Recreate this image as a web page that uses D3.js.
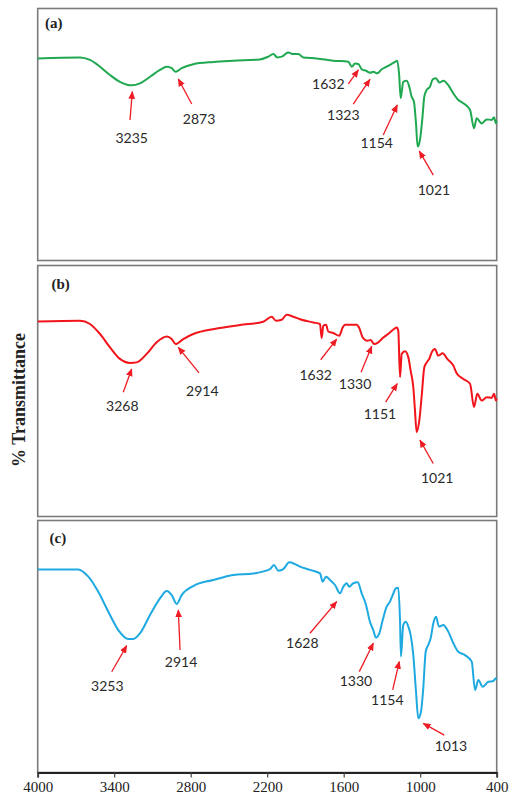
<!DOCTYPE html>
<html>
<head>
<meta charset="utf-8">
<script src="https://cdn.jsdelivr.net/npm/d3@7/dist/d3.min.js"></script>
<style>
  body { margin: 0; background: #fff; }
  svg { display: block; }
</style>
</head>
<body>
<svg id="chart" width="509" height="800"></svg>
<script>
// x axis ticks (wavenumber, cm-1)
const wavenumberTicks = [4000, 3400, 2800, 2200, 1600, 1000, 400];
const panelNames = ['(a)', '(b)', '(c)'];

// spectra as [wavenumber, % transmittance]
const specA = [
  [4000,80.2],[3668,80.6],[3590,79.6],[3511,76.9],[3433,73.6],[3355,70.9],[3263,69.5],[3198,70.3],[3119,72.9],
  [3041,75.6],[2988,76.9],[2949,76.3],[2918,74.9],[2871,76.3],[2780,77.9],[2623,78.8],[2466,79.3],[2257,79.8],
  [2191,80.9],[2152,81.9],[2121,80.6],[2086,80.9],[2035,82.5],[1995,81.9],[1956,81.9],[1917,80.6],[1812,80.2],
  [1682,79.3],[1564,78.9],[1537,76.9],[1511,78.2],[1485,78.0],[1459,75.9],[1425,75.3],[1394,74.5],[1368,74.9],
  [1336,74.3],[1302,75.9],[1263,76.9],[1224,78.0],[1190,79.0],[1180,79.3],[1166,74.3],[1153,64.4],[1133,70.9],
  [1106,71.3],[1086,69.0],[1067,65.0],[1049,63.0],[1033,54.4],[1020,45.2],[1002,47.8],[984,55.8],[968,65.0],
  [949,67.7],[923,69.0],[902,71.9],[876,72.3],[850,70.6],[819,71.3],[780,69.6],[740,66.3],[701,63.7],[662,62.4],
  [609,59.7],[578,52.5],[557,56.4],[518,54.4],[478,56.0],[439,55.8],[421,56.8],[406,54.4],[400,55.5]
];
const specB = [
  [4000,77.7],[3668,78.0],[3590,76.7],[3511,72.7],[3433,67.4],[3355,62.8],[3276,61.2],[3224,61.4],[3145,64.8],
  [3067,69.4],[2988,71.7],[2949,70.7],[2918,68.7],[2858,70.7],[2780,72.7],[2596,74.9],[2413,76.3],[2231,77.6],
  [2165,79.6],[2131,78.0],[2086,78.4],[2047,80.4],[1995,79.6],[1943,78.6],[1838,77.3],[1786,76.7],[1773,71.1],
  [1760,76.0],[1739,76.4],[1721,73.7],[1682,73.1],[1635,72.0],[1608,75.3],[1590,76.4],[1498,76.4],[1478,75.1],
  [1451,71.3],[1415,70.0],[1388,70.3],[1362,68.7],[1329,69.4],[1289,71.3],[1237,73.3],[1205,74.7],[1184,75.3],
  [1172,74.0],[1158,55.5],[1145,64.8],[1119,65.8],[1093,63.4],[1075,58.1],[1054,51.5],[1041,42.3],[1028,33.6],
  [1007,38.3],[988,48.2],[968,59.4],[949,61.4],[929,62.8],[910,65.4],[884,66.7],[858,64.1],[824,65.0],[788,62.8],
  [740,60.1],[714,57.1],[662,54.8],[609,52.9],[578,43.6],[552,48.9],[518,46.2],[478,47.5],[439,47.3],[421,48.9],
  [406,46.2],[400,47.0]
];
const specC = [
  [4000,80.6],[3682,80.6],[3603,77.7],[3525,71.7],[3446,63.8],[3368,56.5],[3289,53.0],[3250,53.0],[3198,55.2],
  [3119,62.5],[3041,69.1],[2988,72.0],[2949,70.4],[2910,66.9],[2871,70.4],[2780,74.0],[2623,76.4],[2466,78.4],
  [2309,79.0],[2178,80.7],[2147,82.3],[2113,80.1],[2074,80.7],[2027,83.4],[1982,82.7],[1943,81.7],[1864,80.4],
  [1786,79.0],[1765,75.7],[1739,77.7],[1707,76.4],[1668,74.4],[1629,71.1],[1603,73.7],[1577,75.1],[1556,73.7],
  [1525,75.1],[1490,75.5],[1459,71.1],[1425,66.5],[1394,59.8],[1368,56.5],[1347,53.5],[1321,55.2],[1294,60.5],
  [1263,65.8],[1237,67.8],[1216,70.4],[1190,73.1],[1172,73.3],[1158,59.8],[1151,46.0],[1133,58.5],[1114,59.8],
  [1093,57.9],[1075,54.6],[1054,46.6],[1033,32.1],[1015,21.5],[994,24.1],[976,33.4],[957,47.9],[937,50.6],
  [918,53.3],[897,59.2],[876,61.8],[853,57.9],[819,58.5],[780,55.9],[740,51.3],[701,47.9],[649,46.6],[596,44.0],
  [570,32.7],[544,36.7],[510,34.0],[466,36.0],[427,36.3],[406,37.4],[400,37.0]
];

// peak labels and the point each arrow points at [wavenumber, %T]
const peakLabelsA = ['3235', '2873', '1632', '1323', '1154', '1021'];
const peakPointsA = [[3258,67.0],[2897,72.0],[1485,75.6],[1394,71.9],[1180,61.7],[1007,43.4]];
const peakLabelsB = ['3268', '2914', '1632', '1330', '1151', '1021'];
const peakPointsB = [[3263,58.8],[2897,67.4],[1655,70.7],[1380,67.8],[1180,52.9],[1002,30.4]];
const peakLabelsC = ['3253', '2914', '1628', '1330', '1154', '1013'];
const peakPointsC = [[3302,50.3],[2897,64.5],[1655,67.8],[1368,51.3],[1164,44.0],[976,19.5]];

// layout: arrow tail and label centre, px offsets from arrow head
const calloutA = [[-2.3,28.3,-0.6,45.6],[13.4,25,20.7,39.3],[-10,14,-30,14],[-16.7,24.7,-26.7,34.7],[-14,30,-20.6,37.7],[14,24,14.7,38.3]];
const calloutB = [[-8.4,23.4,-9.4,36.7],[20.7,25.6,24,43.3],[-16,20.7,-21,35],[-10.7,26,-16.7,37],[-11.6,18.4,-17.3,29.4],[13.3,23.3,17.3,37.7]];
const calloutC = [[-15,26,-19.4,39.3],[1.7,40,2.7,51.7],[-26.7,31.6,-34.4,41],[-14,28.4,-17.3,37.7],[-6.6,28.3,-12,38.3],[21,11.7,27.7,21.7]];

var left = 37.7, right = 496.7;
var panels = [
  { name: panelNames[0], spec: specA, labels: peakLabelsA, points: peakPointsA, callout: calloutA,
    top: 8.5, bottom: 260.5, color: '#1fa84f', nameAt: [45, 19.5] },
  { name: panelNames[1], spec: specB, labels: peakLabelsB, points: peakPointsB, callout: calloutB,
    top: 265.5, bottom: 516.5, color: '#f2141a', nameAt: [51.5, 23.5] },
  { name: panelNames[2], spec: specC, labels: peakLabelsC, points: peakPointsC, callout: calloutC,
    top: 520.5, bottom: 772.5, color: '#1ea9e1', nameAt: [49.5, 22.5] }
];

var svg = d3.select('#chart');

var x = d3.scaleLinear()
  .domain([4000, 400])
  .range([left, right]);

svg.append('defs').append('marker')
  .attr('id', 'head')
  .attr('viewBox', '0 0 10 10')
  .attr('refX', 9)
  .attr('refY', 5)
  .attr('markerUnits', 'userSpaceOnUse')
  .attr('markerWidth', 8)
  .attr('markerHeight', 8)
  .attr('orient', 'auto')
  .append('path')
  .attr('d', 'M0,0.8 L10,5 L0,9.2 Z')
  .attr('fill', '#ee1c24');

panels.forEach(function (p) {
  var y = d3.scaleLinear()
    .domain([0, 100])
    .range([p.bottom, p.top]);

  var g = svg.append('g').attr('class', 'panel');

  g.append('rect')
    .attr('x', left)
    .attr('y', p.top)
    .attr('width', right - left)
    .attr('height', p.bottom - p.top)
    .attr('fill', 'none')
    .attr('stroke', '#7a7a7a')
    .attr('stroke-width', 1.6);

  g.append('text')
    .attr('x', p.nameAt[0])
    .attr('y', p.top + p.nameAt[1])
    .style('font-family', '"Liberation Serif", "Times New Roman", serif')
    .style('font-size', '15px')
    .style('font-weight', 'bold')
    .attr('fill', '#222')
    .text(p.name);

  // excel style smoothed trace
  var line = d3.line()
    .x(function (d) { return x(d[0]); })
    .y(function (d) { return y(d[1]); })
    .curve(d3.curveMonotoneX);

  g.append('path')
    .datum(p.spec)
    .attr('d', line)
    .attr('fill', 'none')
    .attr('stroke', p.color)
    .attr('stroke-width', 2)
    .attr('stroke-linejoin', 'round');

  var ann = g.selectAll('g.peak')
    .data(p.labels.map(function (l, i) {
      return { label: l, w: p.points[i][0], t: p.points[i][1], c: p.callout[i] };
    }))
    .enter().append('g')
    .attr('class', 'peak');

  ann.append('line')
    .attr('x1', function (d) { return x(d.w) + d.c[0]; })
    .attr('y1', function (d) { return y(d.t) + d.c[1]; })
    .attr('x2', function (d) { return x(d.w); })
    .attr('y2', function (d) { return y(d.t); })
    .attr('stroke', '#ee1c24')
    .attr('stroke-width', 1.3)
    .attr('marker-end', 'url(#head)');

  ann.append('text')
    .attr('x', function (d) { return x(d.w) + d.c[2]; })
    .attr('y', function (d) { return y(d.t) + d.c[3]; })
    .attr('text-anchor', 'middle')
    .attr('dominant-baseline', 'central')
    .style('font-family', 'Lato, "Open Sans", sans-serif')
    .style('font-size', '14px')
    .attr('fill', '#2a2a2a')
    .text(function (d) { return d.label; });
});

// shared wavenumber axis under the last panel
var axis = svg.append('g')
  .attr('transform', 'translate(0,' + panels[2].bottom + ')')
  .call(d3.axisBottom(x)
    .tickValues(wavenumberTicks)
    .tickFormat(d3.format('d'))
    .tickSizeOuter(0)
    .tickSize(5)
    .tickPadding(4));

axis.select('.domain')
  .attr('stroke', '#222')
  .attr('stroke-width', 1.8);
axis.selectAll('.tick line')
  .attr('stroke', '#444')
  .attr('stroke-width', 1.2);
axis.selectAll('.tick text')
  .style('font-family', '"Liberation Serif", "Times New Roman", serif')
  .style('font-size', '15px')
  .attr('fill', '#222');

svg.append('text')
  .attr('transform', 'translate(24.5,400) rotate(-90)')
  .attr('text-anchor', 'middle')
  .style('font-family', '"Liberation Serif", "Times New Roman", serif')
  .style('font-size', '18px')
  .style('font-weight', 'bold')
  .attr('fill', '#222')
  .text('% Transmittance');
</script>
</body>
</html>
